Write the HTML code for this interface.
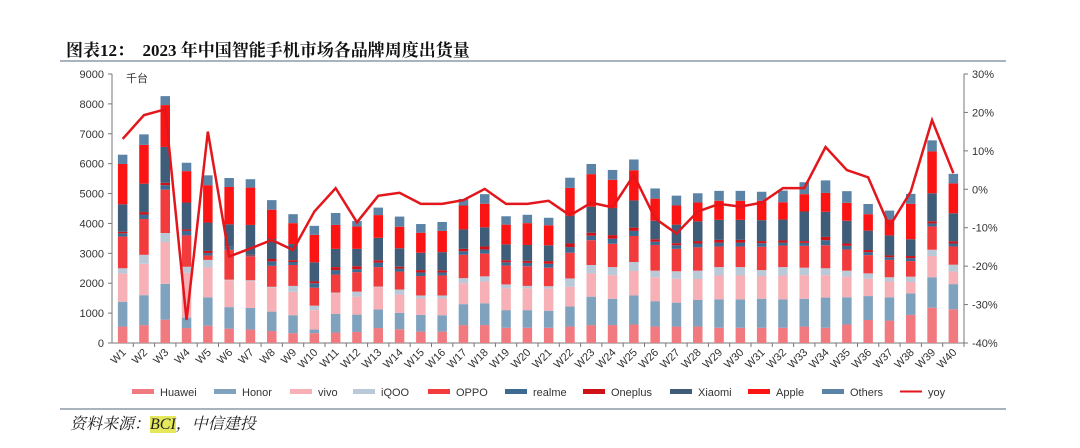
<!DOCTYPE html>
<html><head><meta charset="utf-8">
<style>
body{margin:0;background:#fff;width:1080px;height:448px;overflow:hidden;font-family:"Liberation Sans","Noto Sans CJK SC",sans-serif;}
#title{position:absolute;left:66px;top:36px;font-family:"Liberation Serif","Noto Serif CJK SC",serif;font-weight:bold;font-size:17px;color:#111;}
#src{position:absolute;left:70px;top:411px;font-family:"Liberation Serif","Noto Serif CJK SC",serif;font-style:italic;font-size:16px;color:#222;}
#src span{background:#e4e85a;}
.hl{position:absolute;left:60px;width:946px;height:2px;background:#a9b3bd;}
svg{position:absolute;left:0;top:0;}
</style></head><body>
<div id="title">图表12：&nbsp; 2023 年中国智能手机市场各品牌周度出货量</div>
<div class="hl" style="top:60px"></div>
<div class="hl" style="top:408px"></div>
<div id="src">资料来源：<span>BCI</span>，中信建投</div>
<svg id="chart" width="1080" height="448"></svg>
<script>
const weeks=[];for(let i=1;i<=40;i++)weeks.push('W'+i);
const huawei=[550,600,780,500,580,480,450,400,330,330,350,370,500,460,380,380,600,600,510,510,510,550,600,600,620,550,550,550,510,510,510,510,550,510,620,770,750,940,1180,1130];
const honor=[830,1000,1200,350,950,720,720,650,600,120,620,580,620,550,560,550,700,730,590,590,570,670,950,880,970,850,800,890,950,950,970,950,930,1010,910,800,780,720,1020,840];
const vivo=[950,1050,1400,1500,1000,900,900,800,780,650,700,600,750,610,550,560,700,730,730,730,740,660,780,790,820,800,800,700,800,800,760,800,790,750,690,580,530,380,710,420];
const iqoo=[170,300,300,200,250,20,30,30,200,150,20,170,20,170,100,100,170,170,130,80,80,280,280,270,300,220,250,280,280,280,200,280,250,230,200,180,140,180,210,230];
const oppo=[1060,1200,1450,1050,150,1000,800,700,700,600,600,650,650,600,650,670,780,760,630,660,620,860,830,780,870,860,750,780,690,690,780,720,730,770,710,610,580,520,780,610];
const realme=[110,150,150,150,80,100,30,150,100,150,150,100,150,100,120,100,120,140,110,110,130,190,150,170,170,110,120,130,130,130,120,100,100,170,120,100,90,100,100,100];
const oneplus=[50,80,80,50,70,0,20,80,60,60,100,100,80,60,80,70,80,100,70,70,90,120,100,120,110,80,70,80,90,90,70,70,60,110,80,70,60,70,70,70];
const xiaomi=[920,950,1200,900,950,750,1000,670,540,640,610,580,750,620,580,610,650,640,530,530,530,930,870,910,910,620,620,660,670,670,700,700,990,840,760,650,670,560,940,940];
const apple=[1350,1300,1400,1050,1250,1250,1250,980,700,920,800,750,760,720,670,710,800,790,660,730,670,930,1090,940,1010,740,640,630,640,640,650,580,580,630,600,550,530,1190,1400,1000];
const others=[310,350,300,280,330,300,280,320,300,300,400,180,250,340,290,300,220,320,280,280,250,340,340,330,360,340,330,310,330,330,300,390,400,420,390,340,300,330,370,320];
const yoy=[13.1,19.3,20.8,-34,15,-17.5,-15.4,-13.2,-15.8,-5.8,0.3,-8.6,-1.7,-0.9,-3.8,-3.8,-2.8,0.1,-3.8,-3.8,-3,-6.8,-3.5,-4.7,3.7,-7.6,-11.5,-5.8,-3.8,-4.5,-3.5,0.3,0.3,11,5,3.1,-9.7,-0.6,18,4.2];
const leftTicks=[0,1000,2000,3000,4000,5000,6000,7000,8000,9000];
const rightTicks=[-40,-30,-20,-10,0,10,20,30];
const seriesNames=['Huawei','Honor','vivo','iQOO','OPPO','realme','Oneplus','Xiaomi','Apple','Others'];
const seriesData=[huawei,honor,vivo,iqoo,oppo,realme,oneplus,xiaomi,apple,others];
const colors=['#f07a80','#7fa2bf','#f6b0b6','#b9c9d7','#f23b3d','#3c6a90','#cf1218','#3f5d78','#fb1414','#5b83a5'];

const X0=112,X1=964,Y0=343,Y1=74;
const band=(X1-X0)/weeks.length;
const xC=i=>X0+band*(i+0.5);
const yL=v=>Y0-(v/9000)*(Y0-Y1);
const yR=v=>Y0-((v+40)/70)*(Y0-Y1);
const svg=document.getElementById('chart');
const NS='http://www.w3.org/2000/svg';
function mk(t,a){const e=document.createElementNS(NS,t);for(const k in a)e.setAttribute(k,a[k]);svg.appendChild(e);return e;}

let e=mk('line',{x1:X0,y1:Y1,x2:X0,y2:Y0,stroke:'#777','stroke-width':1});

e=mk('line',{x1:X1,y1:Y1,x2:X1,y2:Y0,stroke:'#777','stroke-width':1});

e=mk('line',{x1:X0,y1:Y0,x2:X1,y2:Y0,stroke:'#777','stroke-width':1});

leftTicks.forEach(v=>{
  mk('line',{x1:X0-4,y1:yL(v),x2:X0,y2:yL(v),stroke:'#777'});
  const t=mk('text',{x:X0-8,y:yL(v)+4,'text-anchor':'end','font-size':11,fill:'#333'});t.textContent=v;
  
});
rightTicks.forEach(v=>{
  mk('line',{x1:X1,y1:yR(v),x2:X1+4,y2:yR(v),stroke:'#777'});
  const t=mk('text',{x:X1+8,y:yR(v)+4,'font-size':11,fill:'#333'});t.textContent=v+'%';
  
});
e=mk('text',{x:126,y:82,'font-size':11,fill:'#333'});e.textContent='千台';


const bw=9.5;
weeks.forEach((w,i)=>{
  let acc=0;
  seriesData.forEach((s,k)=>{
    const v=s[i];
    const r=mk('rect',{x:xC(i)-bw/2,y:yL(acc+v),width:bw,height:Math.max(0,yL(acc)-yL(acc+v)),fill:colors[k]});
    
    
    acc+=v;
  });
  mk('line',{x1:X0+band*(i+1),y1:Y0,x2:X0+band*(i+1),y2:Y0+4,stroke:'#777'});
  const t=mk('text',{x:xC(i)+4,y:Y0+10,'text-anchor':'end','font-size':11,fill:'#333',transform:`rotate(-45 ${xC(i)+4} ${Y0+10})`});
  t.textContent=w;
  
});
const pts=yoy.map((v,i)=>xC(i)+','+yR(v)).join(' ');
e=mk('polyline',{points:pts,fill:'none',stroke:'#e3161c','stroke-width':2.5,'stroke-linejoin':'miter'});


const lx=[132,214,290,353,428,505,583,670,748,822];
seriesNames.forEach((n,k)=>{
  const r=mk('rect',{x:lx[k],y:389,width:22,height:5,fill:colors[k]});
  
  const t=mk('text',{x:lx[k]+28,y:396,'font-size':11,fill:'#333'});t.textContent=n;
  
});
e=mk('line',{x1:900,y1:391.5,x2:922,y2:391.5,stroke:'#e3161c','stroke-width':2});

e=mk('text',{x:928,y:396,'font-size':11,fill:'#333'});e.textContent='yoy';

</script>
</body></html>
